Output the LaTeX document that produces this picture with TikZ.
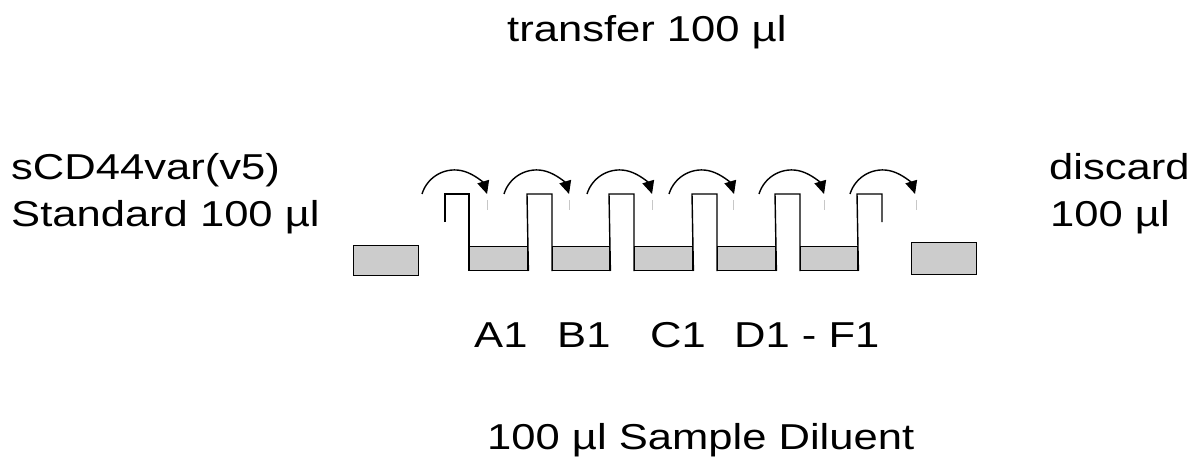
\documentclass[tikz,border=0pt]{standalone}
\usepackage{fontspec}
\setmainfont[FakeStretch=1.21]{Liberation Sans}
\usetikzlibrary{arrows.meta}
\definecolor{wellgray}{RGB}{204,204,204}
\begin{document}
\begin{tikzpicture}[x=1pt,y=1pt,
  lbl/.style={inner sep=0pt, anchor=base west, font=\fontsize{36}{43}\selectfont},
  wellbox/.style={draw=black, fill=wellgray, line width=1.4pt, inner sep=0pt, anchor=south west},
  wall/.style={draw=black, line width=1.4pt},
  moveto/.style={draw=black, line width=1.4pt, -{Triangle[length=13pt,width=12pt]}},
  faint/.style={draw=black!22, line width=1pt}]
\useasboundingbox (0,0) rectangle (1198,464);
% texts
\node[lbl] (transfer) at (507,422) {transfer 100 µl};
\node[lbl] (std1) at (11,284) {sCD44var(v5)};
\node[lbl] (std2) at (11,238) {Standard 100 µl};
\node[lbl] (disc1) at (1049,284) {discard};
\node[lbl] (disc2) at (1050,238) {100 µl};
\node[lbl] (la) at (474,117) {A1};
\node[lbl] (lb) at (557,117) {B1};
\node[lbl] (lc) at (650,117) {C1};
\node[lbl] (ld) at (734,117) {D1 - F1};
\node[lbl] (diluent) at (487,15) {100 µl Sample Diluent};
% end boxes
\node[wellbox, minimum width=65, minimum height=30] (left) at (353,188) {};
\node[wellbox, minimum width=65, minimum height=32] (right) at (911,189) {};
% wells
\foreach \i/\x/\w in {1/469/58, 2/552/57, 3/634/58, 4/717/58, 5/800/57}
  \node[wellbox, minimum width=\w, minimum height=24] (w\i) at (\x,193) {};
% walls
\draw[wall] (445,242) -- (445,270) -- (469,270) -- (w1.south west);
\draw[wall] (w1.south east) -- (527,270) -- (552,270) -- (w2.south west);
\draw[wall] (w2.south east) -- (609,270) -- (634,270) -- (w3.south west);
\draw[wall] (w3.south east) -- (692,270) -- (717,270) -- (w4.south west);
\draw[wall] (w4.south east) -- (775,270) -- (800,270) -- (w5.south west);
\draw[wall] (w5.south east) -- (857,270) -- (882,270) -- (882,242);
% transfer arcs
\foreach \i/\s/\e in {1/422/487, 2/504/569, 3/587/652, 4/669/733, 5/759/824, 6/850/916} {
  \coordinate (s\i) at (\s,270);
  \coordinate (e\i) at (\e,270);
  \draw[moveto] (s\i) arc[start angle=163, end angle=17, radius=34];
  \draw[faint] (\e,264) -- (\e,254);
}
\end{tikzpicture}
\end{document}
